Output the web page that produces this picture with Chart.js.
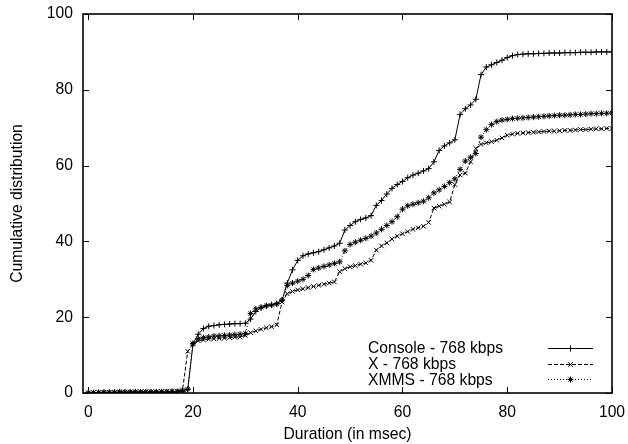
<!DOCTYPE html>
<html>
<head>
<meta charset="utf-8">
<script src="https://cdn.jsdelivr.net/npm/chart.js@4/dist/chart.umd.min.js"></script>
<style>
  html, body { margin: 0; padding: 0; background: #fff; }
  #wrap { width: 628px; height: 444px; }
</style>
</head>
<body>
<div id="wrap"><canvas id="cdf"></canvas></div>
<script>
// durations in msec (1 ms steps)
const durations = [];
for (let i = 0; i <= 100; i++) durations.push(i);

const consoleCdf = [
  0, 0, 0.1, 0.1, 0.1, 0.1, 0.1, 0.1, 0.1, 0.1,
  0.1, 0.1, 0.2, 0.2, 0.2, 0.2, 0.3, 0.3, 0.5, 1,
  13, 15.5, 17, 17.6, 17.8, 18, 18.1, 18.2, 18.3, 18.3,
  18.4, 19.5, 21.5, 22.5, 23, 23.3, 23.6, 24.5, 29, 32.5,
  35, 36.2, 36.7, 37, 37.3, 37.8, 38.3, 38.8, 39.5, 43,
  44.2, 45.2, 45.8, 46.2, 46.8, 49.5, 50.8, 52.5, 54, 55,
  55.8, 56.8, 57.5, 58, 58.6, 59.2, 61, 64, 65.2, 66,
  66.8, 73.5, 75, 76, 77.5, 84, 86, 86.6, 87.2, 87.8,
  88.5, 89, 89.3, 89.4, 89.5, 89.5, 89.6, 89.6, 89.7, 89.7,
  89.7, 89.8, 89.8, 89.8, 89.9, 89.9, 89.9, 90, 90, 90,
  90
];

const xCdf = [
  0, 0.1, 0.1, 0.1, 0.2, 0.2, 0.2, 0.2, 0.2, 0.3,
  0.3, 0.3, 0.3, 0.3, 0.4, 0.4, 0.4, 0.5, 0.8, 11,
  13, 13.8, 14, 14.2, 14.3, 14.4, 14.5, 14.6, 14.7, 14.8,
  15.2, 15.9, 16.4, 16.8, 17.2, 17.5, 18, 24, 26.2, 26.8,
  27.2, 27.5, 27.8, 28.1, 28.4, 28.7, 29, 29.3, 32, 32.8,
  33.3, 33.6, 34, 34.3, 35, 37.7, 38.8, 39.6, 40.6, 41.4,
  42, 42.6, 43.2, 43.6, 44, 45, 48.8, 49.3, 49.8, 50.4,
  55, 57.5, 58, 61, 64.5, 65.6, 66, 66.3, 66.7, 67.3,
  68, 68.3, 68.5, 68.6, 68.7, 68.8, 68.9, 69, 69.1, 69.1,
  69.2, 69.3, 69.3, 69.4, 69.5, 69.5, 69.6, 69.7, 69.7, 69.8,
  69.8
];

const xmmsCdf = [
  0, 0.1, 0.1, 0.2, 0.2, 0.2, 0.3, 0.3, 0.3, 0.3,
  0.3, 0.3, 0.3, 0.3, 0.3, 0.3, 0.4, 0.4, 0.5, 1,
  13, 14.3, 14.6, 14.8, 15, 15.1, 15.2, 15.3, 15.4, 15.5,
  15.7, 21, 22.2, 22.6, 23, 23.2, 23.5, 24.5, 28.4, 29,
  29.5, 30, 31, 32.6, 33, 33.4, 33.8, 34.2, 34.6, 37.5,
  39.2, 39.8, 40.3, 40.8, 41.4, 42.2, 43.2, 44.2, 45.2, 46.5,
  48.5, 49.4, 49.8, 50.2, 50.6, 51.5, 52.8, 53.6, 54.5, 55.5,
  56.5, 59, 61.2, 62.2, 63.2, 67.5, 69.5, 70.8, 71.6, 72,
  72.2, 72.4, 72.5, 72.6, 72.7, 72.8, 72.9, 73, 73.1, 73.2,
  73.3, 73.3, 73.4, 73.5, 73.5, 73.6, 73.7, 73.7, 73.8, 73.8,
  73.9
];

const xTicks = [0, 20, 40, 60, 80, 100];
const yTicks = [0, 20, 40, 60, 80, 100];

const FONT = "'Liberation Sans', Arial, Helvetica, sans-serif";
const FSIZE = 15.7;

const toPoints = ys => durations.map((d, i) => ({ x: d, y: ys[i] }));

// gnuplot style frame: box with inward ticks on all four sides, plus the key
const framePlugin = {
  id: "frame",
  afterDatasetsDraw(chart) {
    const { ctx, chartArea: a, scales } = chart;
    const tick = 6;
    ctx.save();
    ctx.strokeStyle = "#000";
    ctx.lineWidth = 1;
    ctx.setLineDash([]);
    ctx.beginPath();
    xTicks.forEach(v => {
      const px = Math.round(scales.x.getPixelForValue(v)) + 0.5;
      ctx.moveTo(px, a.bottom); ctx.lineTo(px, a.bottom - tick);
      ctx.moveTo(px, a.top); ctx.lineTo(px, a.top + tick);
    });
    yTicks.forEach(v => {
      const py = Math.round(scales.y.getPixelForValue(v)) + 0.5;
      ctx.moveTo(a.left, py); ctx.lineTo(a.left + tick, py);
      ctx.moveTo(a.right, py); ctx.lineTo(a.right - tick, py);
    });
    ctx.stroke();
    ctx.lineWidth = 1.6;
    ctx.strokeRect(a.left, a.top, a.right - a.left, a.bottom - a.top);

    // key
    const textX = a.right - 244;
    const lineX0 = a.right - 64, lineX1 = a.right - 19;
    const rowY0 = a.bottom - 45, rowH = 15.7;
    ctx.font = FSIZE + "px " + FONT;
    ctx.fillStyle = "#000";
    ctx.textAlign = "left";
    ctx.textBaseline = "middle";
    chart.data.datasets.forEach((ds, i) => {
      const y = rowY0 + i * rowH;
      ctx.fillText(ds.label, textX, y + 1);
      ctx.save();
      ctx.lineWidth = 1;
      ctx.setLineDash(ds.borderDash || []);
      ctx.beginPath();
      ctx.moveTo(lineX0, Math.round(y) + 0.5);
      ctx.lineTo(lineX1, Math.round(y) + 0.5);
      ctx.stroke();
      ctx.setLineDash([]);
      Chart.helpers.drawPoint(ctx, {
        pointStyle: ds.pointStyle, radius: ds.pointRadius, borderWidth: 1, rotation: 0
      }, (lineX0 + lineX1) / 2, Math.round(y) + 0.5);
      ctx.restore();
    });
    ctx.restore();
  }
};

const common = {
  borderColor: "#000",
  backgroundColor: "#000",
  pointBorderColor: "#000",
  borderWidth: 1,
  pointBorderWidth: 1,
  pointHoverRadius: 3,
  fill: false,
  tension: 0
};

new Chart(document.getElementById("cdf").getContext("2d"), {
  type: "line",
  data: {
    datasets: [
      { ...common, label: "Console - 768 kbps", data: toPoints(consoleCdf), pointStyle: "cross", pointRadius: 3 },
      { ...common, label: "X - 768 kbps", data: toPoints(xCdf), pointStyle: "crossRot", pointRadius: 3.2, borderDash: [4, 2] },
      { ...common, label: "XMMS - 768 kbps", data: toPoints(xmmsCdf), pointStyle: "star", pointRadius: 3, borderDash: [1, 2] }
    ]
  },
  options: {
    responsive: true,
    maintainAspectRatio: false,
    animation: false,
    layout: { padding: { top: 14, right: 16, left: 0, bottom: 0 } },
    plugins: {
      legend: { display: false },
      tooltip: { enabled: false }
    },
    scales: {
      x: {
        type: "linear",
        min: -1,
        max: 100,
        afterBuildTicks: s => { s.ticks = xTicks.map(v => ({ value: v })); },
        afterFit: s => { s.height = 51; s.paddingLeft = 0; s.paddingRight = 0; },
        grid: { display: false, drawTicks: false },
        border: { display: false },
        ticks: { color: "#000", padding: 10, maxRotation: 0, font: { family: FONT, size: FSIZE } },
        title: {
          display: true, text: "Duration (in msec)", color: "#000",
          padding: { top: 0, bottom: 0 }, font: { family: FONT, size: FSIZE }
        }
      },
      y: {
        type: "linear",
        min: 0,
        max: 100,
        afterBuildTicks: s => { s.ticks = yTicks.map(v => ({ value: v })); },
        afterFit: s => { s.width = 83; s.paddingTop = 0; s.paddingBottom = 0; },
        grid: { display: false, drawTicks: false },
        border: { display: false },
        ticks: { color: "#000", padding: 10, font: { family: FONT, size: FSIZE } },
        title: {
          display: true, text: "Cumulative distribution", color: "#000",
          padding: { top: 8, bottom: 0 }, font: { family: FONT, size: FSIZE }
        }
      }
    }
  },
  plugins: [framePlugin]
});
</script>
</body>
</html>
